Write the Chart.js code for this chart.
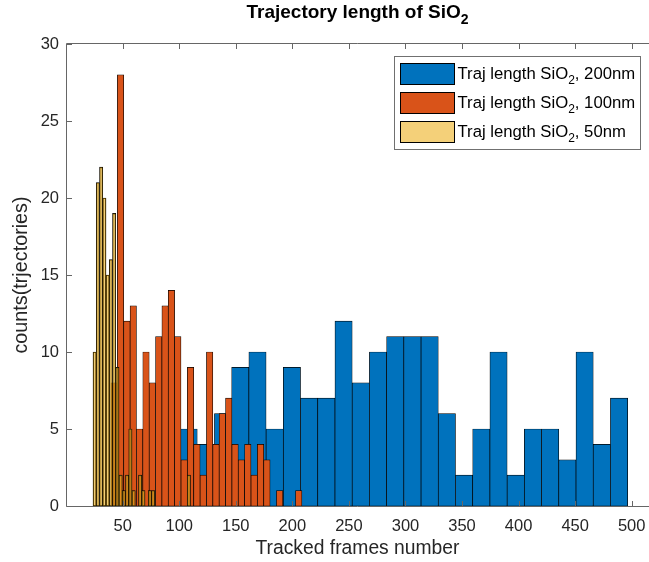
<!DOCTYPE html>
<html>
<head>
<meta charset="utf-8">
<script src="https://cdn.jsdelivr.net/npm/chart.js@4.4.1/dist/chart.umd.min.js"></script>
<style>
html,body{margin:0;padding:0;background:#fff;}
canvas{display:block;}
</style>
</head>
<body>
<canvas id="c" width="649" height="562"></canvas>
<script>
// ---------- text ----------
const titleMain = 'Trajectory length of SiO';
const titleSub = '2';
const xAxisLabel = 'Tracked frames number';
const yAxisLabel = 'counts(trjectories)';
const seriesNames = ['Traj length SiO\u2082, 200nm', 'Traj length SiO\u2082, 100nm', 'Traj length SiO\u2082, 50nm'];
const legendParts = [
  ['Traj length SiO', '2', ', 200nm'],
  ['Traj length SiO', '2', ', 100nm'],
  ['Traj length SiO', '2', ', 50nm']
];

// ---------- ticks ----------
const xTickValues = [50, 100, 150, 200, 250, 300, 350, 400, 450, 500];
const yTickValues = [0, 5, 10, 15, 20, 25, 30];
const xMin = 0.8, xMax = 514.4;
const yMin = 0, yMax = 30;

// ---------- histogram bins (edges in frames) and counts ----------
const blueBinStart = 100.7, blueBinWidth = 15.22;
const blueCounts = [5, 4, 6, 9, 10, 5, 9, 7, 7, 12, 8, 10, 11, 11, 11, 6, 2, 5, 10, 2, 5, 5, 3, 10, 4, 7];

const orangeBinStart = 39.7, orangeBinWidth = 5.625;
const orangeCounts = [8, 28, 12, 13, 5, 10, 8, 11, 13, 14, 11, 3, 9, 4, 2, 10, 4, 6, 7, 4, 3, 4, 2, 4, 3, 0, 1, 0, 0, 1];

const yellowBinStart = 23.8, yellowBinWidth = 2.873;
const yellowCounts = [10, 21, 22, 20, 15, 16, 19, 9, 2, 1, 2, 5, 1, 0, 2, 1, 0, 1, 1, 0, 0, 0, 0, 0, 0, 0, 0, 0, 0, 2];

// ---------- styles ----------
const FONT = "'Liberation Sans', Arial, Helvetica, sans-serif";
const blueColor = '#0072BD';
const orangeColor = '#D95319';
const yellowColor = 'rgba(237,177,32,0.6)';
const seriesColors = [blueColor, orangeColor, yellowColor];
const axisColor = '#262626';

function toPoints(start, width, counts) {
  return counts.map((c, i) => ({ x: start + (i + 0.5) * width, y: c }));
}

const framePlugin = {
  id: 'framePlugin',
  beforeDraw(chart) {
    const ctx = chart.ctx;
    ctx.save();
    ctx.fillStyle = '#fff';
    ctx.fillRect(0, 0, chart.width, chart.height);
    ctx.restore();
  },
  afterDatasetsDraw(chart) {
    const { ctx, chartArea: a, scales } = chart;
    const x = scales.x, y = scales.y;
    ctx.save();
    ctx.strokeStyle = '#666';
    ctx.lineWidth = 1;
    const L = Math.round(a.left) - 0.5;
    const T = Math.round(a.top) - 0.5, B = Math.round(a.bottom) + 0.5;
    const W = chart.width;
    ctx.beginPath();
    // left, top, bottom lines (the right side of the box lies past the picture edge)
    ctx.moveTo(W, T); ctx.lineTo(L, T); ctx.lineTo(L, B); ctx.lineTo(W, B);
    ctx.stroke();
    const tl = 5.5;
    ctx.beginPath();
    xTickValues.forEach(v => {
      const px = Math.round(x.getPixelForValue(v)) + 0.5;
      ctx.moveTo(px, B); ctx.lineTo(px, B - tl);
      ctx.moveTo(px, T); ctx.lineTo(px, T + tl);
    });
    yTickValues.forEach(v => {
      const py = Math.round(y.getPixelForValue(v)) + 0.5;
      ctx.moveTo(L, py); ctx.lineTo(L + tl, py);
    });
    ctx.stroke();
    ctx.restore();
  },
  afterDraw(chart) {
    const ctx = chart.ctx;
    const a = chart.chartArea;
    ctx.save();
    // title with subscript
    const tSize = 19, sSize = 14;
    ctx.fillStyle = '#000';
    ctx.textBaseline = 'alphabetic';
    ctx.font = `bold ${tSize}px ${FONT}`;
    const w1 = ctx.measureText(titleMain).width;
    ctx.font = `bold ${sSize}px ${FONT}`;
    const w2 = ctx.measureText(titleSub).width;
    const cx = (a.left + a.right) / 2;
    let tx = cx - (w1 + w2) / 2;
    const tBase = 18;
    ctx.font = `bold ${tSize}px ${FONT}`;
    ctx.textAlign = 'left';
    ctx.fillText(titleMain, tx, tBase);
    ctx.font = `bold ${sSize}px ${FONT}`;
    ctx.fillText(titleSub, tx + w1, tBase + 6);

    // legend
    const bx = 394.5, by = 56.5, bw = 246, bh = 93;
    ctx.fillStyle = '#fff';
    ctx.fillRect(bx, by, bw, bh);
    ctx.strokeStyle = '#707070';
    ctx.lineWidth = 1;
    ctx.strokeRect(bx, by, bw, bh);
    const rowY = [63.5, 92.5, 121.5];
    const lSize = 16.7, lsSize = 12;
    legendParts.forEach((parts, i) => {
      ctx.fillStyle = seriesColors[i];
      ctx.fillRect(400.5, rowY[i], 54, 21);
      ctx.strokeStyle = '#000';
      ctx.strokeRect(400.5, rowY[i], 54, 21);
      const base = rowY[i] + 15;
      let px = 457.5;
      ctx.fillStyle = '#000';
      ctx.font = `${lSize}px ${FONT}`;
      ctx.fillText(parts[0], px, base);
      px += ctx.measureText(parts[0]).width;
      ctx.font = `${lsSize}px ${FONT}`;
      ctx.fillText(parts[1], px, base + 5);
      px += ctx.measureText(parts[1]).width;
      ctx.font = `${lSize}px ${FONT}`;
      ctx.fillText(parts[2], px, base);
    });
    ctx.restore();
  }
};

const hiddenX = {
  type: 'linear', min: xMin, max: xMax, display: false, offset: false,
  afterBuildTicks: s => { s.ticks = xTickValues.map(v => ({ value: v })); }
};

const barCommon = {
  type: 'bar',
  borderColor: '#000',
  borderWidth: 0.7,
  borderSkipped: false,
  barPercentage: 1.0,
  categoryPercentage: 1.0,
  grouped: false
};

new Chart(document.getElementById('c'), {
  type: 'bar',
  data: {
    datasets: [
      Object.assign({}, barCommon, { label: seriesNames[0], data: toPoints(blueBinStart, blueBinWidth, blueCounts), backgroundColor: blueColor, xAxisID: 'x', order: 3 }),
      Object.assign({}, barCommon, { label: seriesNames[1], data: toPoints(orangeBinStart, orangeBinWidth, orangeCounts), backgroundColor: orangeColor, xAxisID: 'x2', order: 2 }),
      Object.assign({}, barCommon, { label: seriesNames[2], data: toPoints(yellowBinStart, yellowBinWidth, yellowCounts), backgroundColor: yellowColor, xAxisID: 'x3', order: 1 })
    ]
  },
  options: {
    responsive: false,
    animation: false,
    devicePixelRatio: 1,
    layout: { padding: { top: 44, right: 1, left: 0, bottom: 0 } },
    plugins: { legend: { display: false }, title: { display: false }, tooltip: { enabled: false } },
    scales: {
      x: {
        type: 'linear', position: 'bottom', min: xMin, max: xMax, offset: false,
        grid: { display: false, drawTicks: false, offset: false },
        border: { display: false },
        afterBuildTicks: s => { s.ticks = xTickValues.map(v => ({ value: v })); },
        afterFit: s => { s.height = 56; s.paddingLeft = 0; s.paddingRight = 0; },
        ticks: { padding: 10.5, color: axisColor, font: { family: FONT, size: 16.5 }, maxRotation: 0, autoSkip: false },
        title: { display: true, text: xAxisLabel, color: axisColor, font: { family: FONT, size: 19.3 }, padding: { top: 0, bottom: 2 } }
      },
      x2: Object.assign({}, hiddenX),
      x3: Object.assign({}, hiddenX),
      y: {
        type: 'linear', min: yMin, max: yMax,
        grid: { display: false, drawTicks: false },
        border: { display: false },
        afterBuildTicks: s => { s.ticks = yTickValues.map(v => ({ value: v })); },
        afterFit: s => { s.width = 67; s.paddingTop = 0; s.paddingBottom = 0; },
        ticks: { padding: 8, color: axisColor, font: { family: FONT, size: 16.5 } },
        title: { display: true, text: yAxisLabel, color: axisColor, font: { family: FONT, size: 19.8 }, padding: { top: 10, bottom: 0 } }
      }
    }
  },
  plugins: [framePlugin]
});
</script>
</body>
</html>
